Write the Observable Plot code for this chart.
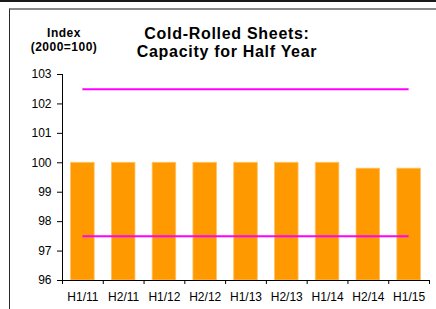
<!DOCTYPE html>
<html>
<head>
<meta charset="utf-8">
<script src="https://cdn.jsdelivr.net/npm/d3@7"></script>
<script src="https://cdn.jsdelivr.net/npm/@observablehq/plot@0.6"></script>
<style>
  html, body { margin: 0; padding: 0; background: #fff; }
  #wrap { position: relative; width: 436px; height: 309px; overflow: hidden; font-family: "Liberation Sans", Arial, sans-serif; color: #000; }
  #topbar { position: absolute; left: 0; top: 0; width: 436px; height: 2px; background: #1a1a1a; }
  #box { position: absolute; left: 9px; top: 8px; width: 440px; height: 320px; border-left: 1px solid #2a2a2a; border-top: 2px solid #8a8a8a; }
  #chart { position: absolute; left: 0; top: 0; }
  .lbl { position: absolute; font-weight: bold; text-align: center; white-space: nowrap; }
  #ylab { left: 14px; width: 100px; top: 25.5px; font-size: 12px; line-height: 14px; letter-spacing: 0.5px; }
  #title { left: 127px; width: 200px; top: 24.8px; font-size: 16px; line-height: 18px; letter-spacing: 0.7px; }
</style>
</head>
<body>
<div id="wrap">
  <div id="topbar"></div>
  <div id="box"></div>
  <div id="chart"></div>
  <div class="lbl" id="ylab">Index<br>(2000=100)</div>
  <div class="lbl" id="title">Cold-Rolled Sheets:<br>Capacity for Half Year</div>
</div>
<script>
const categories = ["H1/11", "H2/11", "H1/12", "H2/12", "H1/13", "H2/13", "H1/14", "H2/14", "H1/15"];
const capacity = [100, 100, 100, 100, 100, 100, 100, 99.8, 99.8];
const bandLimits = [97.5, 102.5];
const yTicks = [96, 97, 98, 99, 100, 101, 102, 103];

const n = categories.length;
const data = categories.map((c, i) => ({cat: c, i, value: capacity[i]}));
const boundaries = d3.range(0, n + 1);
const centers = d3.range(0, n).map(i => i + 0.5);
const yMin = yTicks[0], yMax = yTicks[yTicks.length - 1];

const chart = Plot.plot({
  width: 436,
  height: 309,
  marginLeft: 62,
  marginRight: 7,
  marginTop: 74,
  marginBottom: 29,
  style: {fontFamily: "'Liberation Sans', Arial, sans-serif", fontSize: "12px", background: "transparent", color: "#000"},
  x: {type: "linear", domain: [0, n], axis: null, label: null},
  y: {domain: [yMin, yMax], axis: null, label: null},
  marks: [
    Plot.rectY(data, {x1: d => d.i, x2: d => d.i + 1, y1: yMin, y2: "value", insetLeft: 8.6, insetRight: 8.6, fill: "#FF9900", stroke: "#FFC266", strokeWidth: 0.8}),
    Plot.ruleY(bandLimits, {x1: centers[0], x2: centers[n - 1], stroke: "#FF00FF", strokeWidth: 2}),
    Plot.ruleX([0], {y1: yMin, y2: yMax, stroke: "#000"}),
    Plot.ruleY([yMin], {stroke: "#000"}),
    Plot.axisY({ticks: yTicks, tickSize: 5, tickPadding: 6, tickFormat: d => String(d), fontSize: 12, label: null}),
    Plot.axisX({ticks: boundaries, tickSize: 4, tickFormat: () => "", label: null}),
    Plot.axisX({ticks: centers, tickSize: 0, tickPadding: 11.5, tickFormat: d => categories[Math.round(d - 0.5)], fontSize: 12, label: null, style: {letterSpacing: "0.4px"}})
  ]
});
document.getElementById("chart").appendChild(chart);
</script>
</body>
</html>
